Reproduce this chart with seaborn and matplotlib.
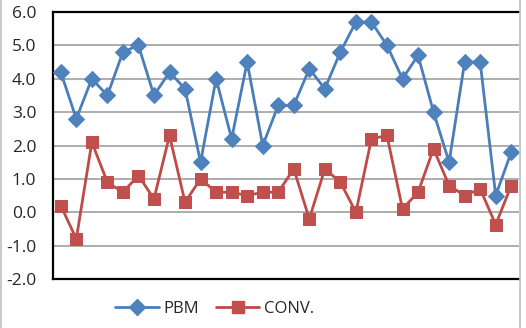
import matplotlib
matplotlib.use("Agg")
import matplotlib.pyplot as plt
import seaborn as sns
import pandas as pd
from matplotlib.lines import Line2D

pbm = [4.2, 2.8, 4.0, 3.5, 4.8, 5.0, 3.5, 4.2, 3.7, 1.5, 4.0, 2.2, 4.5, 2.0, 3.2,
       3.2, 4.3, 3.7, 4.8, 5.7, 5.7, 5.0, 4.0, 4.7, 3.0, 1.5, 4.5, 4.5, 0.5, 1.8]
conv = [0.2, -0.8, 2.1, 0.9, 0.6, 1.1, 0.4, 2.3, 0.3, 1.0, 0.6, 0.6, 0.5, 0.6, 0.6,
        1.3, -0.2, 1.3, 0.9, 0.0, 2.2, 2.3, 0.1, 0.6, 1.9, 0.8, 0.5, 0.7, -0.37, 0.8]
series_names = ["PBM", "CONV."]
y_ticks = [-2, -1, 0, 1, 2, 3, 4, 5, 6]

idx = list(range(len(pbm)))
df = pd.DataFrame({
    "x": idx + idx,
    "value": pbm + conv,
    "series": [series_names[0]] * len(pbm) + [series_names[1]] * len(conv),
})

sns.set_style("white")
plt.rcParams["font.family"] = ["Open Sans", "DejaVu Sans"]

colors = {"PBM": "#4A7EBB", "CONV.": "#BE4B48"}
mcolors = {"PBM": "#4F81BD", "CONV.": "#C0504D"}
markers = {"PBM": "D", "CONV.": "s"}
msizes = {"PBM": 8.0, "CONV.": 8.0}

fig = plt.figure(figsize=(5.26, 3.28), dpi=100)
ax = fig.add_axes([53 / 526, 1 - 279 / 328, (519 - 53) / 526, (279 - 12) / 328])

for name in series_names:
    sub = df[df["series"] == name]
    sns.lineplot(data=sub, x="x", y="value", ax=ax, color=colors[name],
                 linewidth=2.0, marker=markers[name], markersize=msizes[name],
                 markerfacecolor=mcolors[name], markeredgecolor=mcolors[name],
                 legend=False, zorder=3)

ax.set_xlim(-0.5, len(pbm) - 0.5)
ax.set_ylim(-2, 6)
ax.set_yticks(y_ticks)
ax.set_yticklabels([f"{v:.1f}" for v in y_ticks], fontsize=12.5)
ax.set_xticks([])
ax.set_xlabel("")
ax.set_ylabel("")
ax.tick_params(axis="y", length=0, pad=12)
for v in y_ticks:
    ax.axhline(v, color="#A0A0A0", linewidth=1.2, zorder=1)
for s in ["left", "bottom", "top"]:
    ax.spines[s].set_visible(True)
    ax.spines[s].set_color("black")
    ax.spines[s].set_linewidth(1.6)
ax.spines["right"].set_visible(False)

# chart border lines
fig.add_artist(Line2D([520 / 526, 520 / 526], [0, 1], color="#BFBFBF", linewidth=1.2))
fig.add_artist(Line2D([0.5 / 526, 0.5 / 526], [0, 1], color="#BFBFBF", linewidth=1.2))

handles = [Line2D([0], [0], color=colors[n], linewidth=2.0, marker=markers[n],
                  markersize=msizes[n], markerfacecolor=mcolors[n],
                  markeredgecolor=mcolors[n]) for n in series_names]
fig.legend(handles, series_names, loc="center", bbox_to_anchor=(215 / 526, 1 - 309 / 328),
           ncol=2, frameon=False, fontsize=12, handlelength=2.6, handletextpad=0.3,
           columnspacing=1.0)

fig.savefig("out.png", dpi=100)
